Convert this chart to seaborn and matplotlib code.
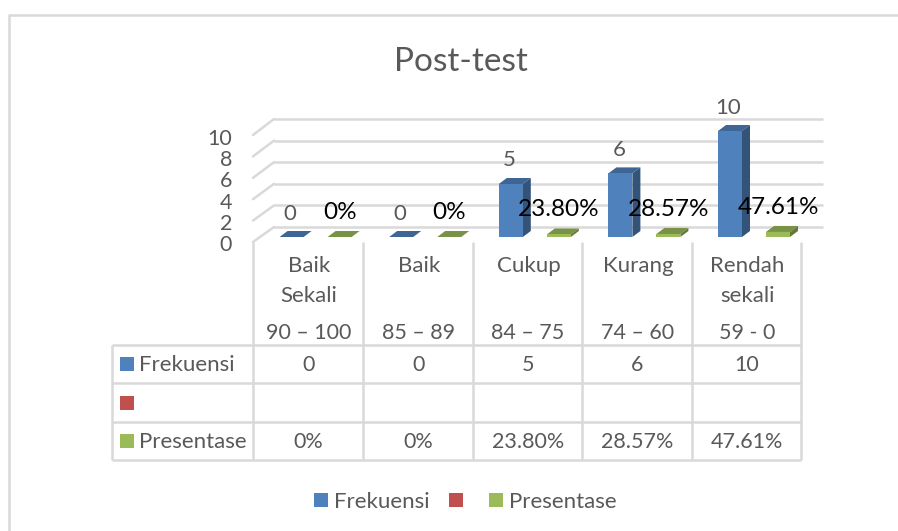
import pandas as pd
import numpy as np
import matplotlib
matplotlib.use('Agg')
import matplotlib.pyplot as plt
from matplotlib.patches import Polygon, Rectangle
from matplotlib.colors import to_rgb
import seaborn as sns

# --- data ---
categories = ['Baik\nSekali', 'Baik', 'Cukup', 'Kurang', 'Rendah\nsekali']
ranges = ['90 – 100', '85 – 89', '84 – 75', '74 – 60', '59 - 0']
frekuensi = [0, 0, 5, 6, 10]
presentase = [0, 0, 0.238, 0.2857, 0.4761]
frek_labels = ['0', '0', '5', '6', '10']
pres_labels = ['0%', '0%', '23.80%', '28.57%', '47.61%']
y_ticks = [0, 2, 4, 6, 8, 10]
title = 'Post-test'
series = ['Frekuensi', ' ', 'Presentase']
colors = ['#4F81BD', '#C0504D', '#9BBB59']

GRID = '#D9D9D9'
TEXT = '#595959'

sns.set_theme(style='white')
plt.rcParams['font.family'] = ['Lato', 'DejaVu Sans']

W, H = 898, 531
fig = plt.figure(figsize=(W / 100, H / 100), dpi=100)

# background axes in pixel coordinates, for the frame, walls and table
bg = fig.add_axes([0, 0, 1, 1])
bg.set_xlim(0, W)
bg.set_ylim(H, 0)
bg.axis('off')


def hline(y, x0, x1):
    bg.plot([x0, x1], [y, y], color=GRID, lw=1.8, solid_capstyle='butt')


def vline(x, y0, y1):
    bg.plot([x, x], [y0, y1], color=GRID, lw=1.8, solid_capstyle='butt')


# chart frame (cropped on the right and at the bottom)
hline(15, 8, W)
vline(8.5, 15, H)

# back wall grid and left wall
for v in y_ticks:
    back = 227 - v * 10.8
    front = 242 - v * 10.7
    hline(back, 274, 823)
    bg.plot([253, 274], [front, back], color=GRID, lw=1.8)
    bg.text(232, 245 - v * 10.6, str(v), ha='right', va='center', fontsize=15.5, color=TEXT)

bg.text(461, 62, title, ha='center', va='center', fontsize=24, color=TEXT)

# data table
col_x = [253, 363, 473, 582, 692, 801]
row_y = [345, 383, 422, 460]
for x in col_x:
    vline(x, 242, 460)
vline(112, 345, 460)
for y in row_y:
    hline(y, 112, 801)

row_mid = [364, 402.5, 441]
col_mid = [(a + b) / 2 for a, b in zip(col_x[:-1], col_x[1:])]
row_names = [series[0], '', series[2]]
row_values = [frek_labels, [''] * 5, pres_labels]

for i, cx in enumerate(col_mid):
    lines = categories[i].split('\n')
    for j, line in enumerate(lines):
        bg.text(cx + 1, 266.5 + j * 29.5, line, ha='center', va='center', fontsize=16, color=TEXT)
    bg.text(cx + 0.5, 333, ranges[i], ha='center', va='center', fontsize=15.5, color=TEXT)

for r, ym in enumerate(row_mid):
    bg.add_patch(Rectangle((120, ym - 7), 14, 14, color=colors[r], lw=0))
    bg.text(139, ym + 1, row_names[r], ha='left', va='center', fontsize=16, color=TEXT)
    for cx, val in zip(col_mid, row_values[r]):
        bg.text(cx + 0.5, ym + 1, val, ha='center', va='center', fontsize=15.5, color=TEXT)

# legend
for x, col in zip([314, 449, 489], colors):
    bg.add_patch(Rectangle((x, 493), 14, 14, color=col, lw=0))
bg.text(334, 501.5, series[0], ha='left', va='center', fontsize=16, color=TEXT)
bg.text(509, 501.5, series[2], ha='left', va='center', fontsize=16, color=TEXT)

# bars
df = pd.DataFrame({
    'kategori': categories * 3,
    'seri': [s for s in series for _ in categories],
    'nilai': frekuensi + [np.nan] * 5 + presentase,
})

step = 109.6
left = 315.6 - step / 2
ax = fig.add_axes([left / W, (H - 237) / H, 5 * step / W, 106 / H])
ax.patch.set_visible(False)
sns.barplot(data=df, x='kategori', y='nilai', hue='seri', hue_order=series, palette=colors,
            order=categories, width=0.657, gap=0, saturation=1, legend=False, ax=ax, errorbar=None)
ax.set_xlim(-0.5, 4.5)
ax.set_ylim(0, 10)
ax.axis('off')

ddx = 8 / step
ddy = 6 / 10.6
for cont, vals, labs, col, lab_col in zip(
        [c for c in ax.containers if len(c) == 5 and not np.isnan(c[0].get_height())],
        [frekuensi, presentase], [frek_labels, pres_labels],
        [colors[0], colors[2]], [TEXT, 'black']):
    base = np.array(to_rgb(col))
    for bar, lab in zip(cont, labs):
        x0, w, h = bar.get_x(), bar.get_width(), bar.get_height()
        bar.set_linewidth(0)
        ax.add_patch(Polygon([(x0, h), (x0 + w, h), (x0 + w + ddx, h + ddy), (x0 + ddx, h + ddy)],
                             color=base * 0.78, lw=0, clip_on=False, zorder=4))
        ax.add_patch(Polygon([(x0 + w, 0), (x0 + w + ddx, ddy), (x0 + w + ddx, h + ddy), (x0 + w, h)],
                             color=base * 0.64, lw=0, clip_on=False, zorder=4))
        bar.set_zorder(5)
        bar.set_clip_on(False)
        size = 16 if lab_col == TEXT else 17.5
        shift = -1.5 if lab_col == TEXT else 0
        rise = 23.5 if lab_col == TEXT else 24.5
        ax.annotate(lab, (x0 + w / 2, h), xytext=(shift * 0.72, rise * 0.72), textcoords='offset points',
                    ha='center', va='center', fontsize=size, color=lab_col, zorder=10,
                    annotation_clip=False)

fig.savefig('out.png', dpi=100, facecolor='white')
